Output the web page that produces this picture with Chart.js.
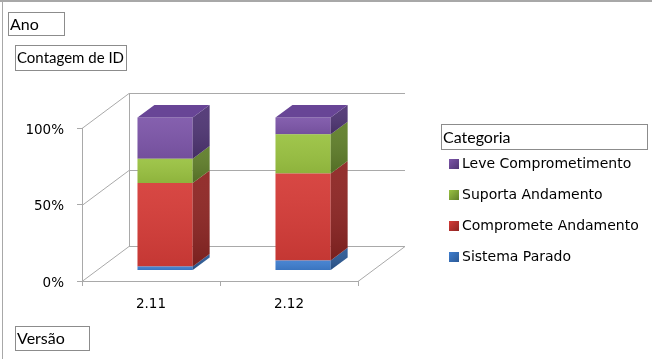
<!DOCTYPE html>
<html>
<head>
<meta charset="utf-8">
<script src="https://cdn.jsdelivr.net/npm/chart.js@4/dist/chart.umd.min.js"></script>
<style>
html,body{margin:0;padding:0;background:#fff;}
canvas{display:block;}
</style>
</head>
<body>
<canvas id="c" width="652" height="359"></canvas>
<script>
// ---- data ----
const categories = ['2.11', '2.12'];
const seriesNames = ['Sistema Parado', 'Compromete Andamento', 'Suporta Andamento', 'Leve Comprometimento'];
const sistemaParado = [2.6, 6.6];
const comprometeAndamento = [54.6, 56.8];
const suportaAndamento = [15.9, 25.6];
const leveComprometimento = [26.9, 11.0];
const yTickValues = [0, 50, 100];
const yTickLabels = ['0%', '50%', '100%'];

// ---- styles ----
const frontColors = ['#3F7ECF', '#D53C38', '#9AC241', '#7D56A9'];
const sideColors  = ['#2C5A96', '#8E2523', '#607F2A', '#4F3574'];
const topColor = '#684596';
const gridColor = '#A9A9A9';
const DEPTH = {dx: 47, dy: -35};
const BAR_FRONT = 0.30, BAR_DEPTH = 0.36;

const seriesValues = [sistemaParado, comprometeAndamento, suportaAndamento, leveComprometimento];

const threeD = {
  id: 'threeD',
  beforeDatasetsDraw(chart) {
    const {ctx, chartArea, scales: {y}} = chart;
    const L = chartArea.left, R = chartArea.right;
    const B = y.getPixelForValue(0), T = y.getPixelForValue(100);
    ctx.save();
    ctx.strokeStyle = gridColor;
    ctx.lineWidth = 1;
    ctx.beginPath();
    yTickValues.forEach(v => {
      const py = Math.round(y.getPixelForValue(v)) + 0.5;
      ctx.moveTo(L, py);
      ctx.lineTo(L + DEPTH.dx, py + DEPTH.dy);
      ctx.lineTo(R + DEPTH.dx, py + DEPTH.dy);
    });
    ctx.moveTo(L + DEPTH.dx + 0.5, T + DEPTH.dy);
    ctx.lineTo(L + DEPTH.dx + 0.5, B + DEPTH.dy);
    ctx.moveTo(R + DEPTH.dx, Math.round(B) + 0.5 + DEPTH.dy);
    ctx.lineTo(R, Math.round(B) + 0.5);
    ctx.stroke();
    ctx.restore();
    ctx.save();
    ctx.translate(BAR_FRONT * DEPTH.dx, BAR_FRONT * DEPTH.dy);
  },
  afterDatasetsDraw(chart) {
    const {ctx} = chart;
    const bx = BAR_DEPTH * DEPTH.dx, by = BAR_DEPTH * DEPTH.dy;
    const n = chart.data.datasets.length;
    for (let i = 0; i < n; i++) {
      const meta = chart.getDatasetMeta(i);
      meta.data.forEach(bar => {
        const p = bar.getProps(['x', 'y', 'base', 'width'], true);
        const left = p.x - p.width / 2, right = p.x + p.width / 2;
        // front shading overlay
        const fg = ctx.createLinearGradient(0, p.y, 0, p.base);
        fg.addColorStop(0, 'rgba(255,255,255,0.06)');
        fg.addColorStop(1, 'rgba(0,0,0,0.08)');
        ctx.fillStyle = fg;
        ctx.fillRect(left, p.y, p.width, p.base - p.y);
        // side face
        const sg = ctx.createLinearGradient(0, p.y + by, 0, p.base);
        sg.addColorStop(0, sideColors[i]);
        sg.addColorStop(1, sideColors[i]);
        ctx.fillStyle = sg;
        ctx.beginPath();
        ctx.moveTo(right, p.y);
        ctx.lineTo(right + bx, p.y + by);
        ctx.lineTo(right + bx, p.base + by);
        ctx.lineTo(right, p.base);
        ctx.closePath();
        ctx.fill();
        const sh = ctx.createLinearGradient(0, p.y + by, 0, p.base);
        sh.addColorStop(0, 'rgba(255,255,255,0.05)');
        sh.addColorStop(1, 'rgba(0,0,0,0.15)');
        ctx.fillStyle = sh;
        ctx.fill();
        if (i === n - 1) {
          ctx.fillStyle = topColor;
          ctx.beginPath();
          ctx.moveTo(left, p.y);
          ctx.lineTo(left + bx, p.y + by);
          ctx.lineTo(right + bx, p.y + by);
          ctx.lineTo(right, p.y);
          ctx.closePath();
          ctx.fill();
        }
      });
    }
    ctx.restore();
  },
  afterDraw(chart) {
    const {ctx} = chart;
    ctx.save();
    ctx.fillStyle = '#A8A8A8';
    ctx.fillRect(0, 0, 652, 2);
    ctx.fillRect(2, 0, 1, 359);
    const box = (x, y, w, h, text, size) => {
      ctx.strokeStyle = '#8C8C8C';
      ctx.lineWidth = 1;
      ctx.strokeRect(x + 0.5, y + 0.5, w, h);
      ctx.fillStyle = '#000';
      ctx.font = size + 'px Lato';
      ctx.textBaseline = 'middle';
      ctx.textAlign = 'left';
      ctx.fillText(text, x + 2, y + h / 2 + 1);
    };
    box(8, 12, 56, 23, 'Ano', 16);
    box(15, 45, 111, 25, 'Contagem de ID', 15);
    box(15, 326, 74, 24, 'Versão', 16);
    box(441, 124, 206, 25, 'Categoria', 16);
    const items = chart.data.datasets.map((d, i) => ({label: d.label, i})).reverse();
    ctx.font = '14px "DejaVu Sans"';
    ctx.textBaseline = 'middle';
    items.forEach((it, k) => {
      const cy = 164 + k * 31;
      const g = ctx.createLinearGradient(449, cy - 5, 459, cy + 5);
      g.addColorStop(0, frontColors[it.i]);
      g.addColorStop(1, sideColors[it.i]);
      ctx.fillStyle = g;
      ctx.fillRect(449, cy - 5, 10, 10);
      ctx.fillStyle = '#000';
      ctx.fillText(it.label, 462, cy);
    });
    ctx.restore();
  }
};

new Chart(document.getElementById('c'), {
  type: 'bar',
  data: {
    labels: categories,
    datasets: seriesNames.map((name, i) => ({
      label: name,
      data: seriesValues[i],
      backgroundColor: frontColors[i],
      borderWidth: 0,
      clip: false,
      categoryPercentage: 1.0,
      barPercentage: 0.4
    }))
  },
  options: {
    responsive: false,
    animation: false,
    events: [],
    layout: {padding: {left: 0, top: 128, right: 294, bottom: 0}},
    plugins: {legend: {display: false}, tooltip: {enabled: false}},
    scales: {
      x: {
        stacked: true,
        afterFit(s) { s.height = 78; },
        grid: {offset: true, drawOnChartArea: false, color: gridColor, tickLength: 5},
        border: {color: gridColor},
        ticks: {padding: 10, color: '#000', font: {family: 'DejaVu Sans', size: 13.5}}
      },
      y: {
        stacked: true,
        min: 0, max: 100,
        afterFit(s) { s.width = 82; },
        afterBuildTicks(s) { s.ticks = yTickValues.map(v => ({value: v})); },
        grid: {drawOnChartArea: false, color: gridColor, tickLength: 5},
        border: {color: gridColor},
        ticks: {
          padding: 13, labelOffset: 2, color: '#000', font: {family: 'DejaVu Sans', size: 13.5},
          callback: (v) => yTickLabels[yTickValues.indexOf(v)]
        }
      }
    }
  },
  plugins: [threeD]
});
</script>
</body>
</html>
